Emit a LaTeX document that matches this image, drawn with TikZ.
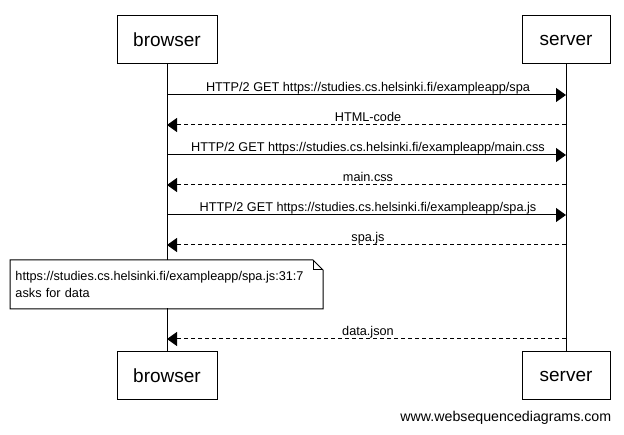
\documentclass[tikz,border=0pt]{standalone}
\usepackage{fontspec}
\setmainfont{Liberation Sans}
\usetikzlibrary{arrows.meta}
\begin{document}
\begin{tikzpicture}[x=1pt,y=-1pt,line width=1pt,
	actor/.style={draw,minimum height=48pt,font=\fontsize{19}{22}\selectfont},
	msg/.style={-{Triangle[length=10pt,width=14pt]}},
	reply/.style={msg,dash pattern=on 4pt off 3pt},
	lbl/.style={anchor=base,inner sep=0pt,yshift=3.5pt,xshift=1.5pt,font=\fontsize{12.7}{15}\selectfont},
	notetext/.style={fill=white,minimum height=48pt,text width=302pt,inner xsep=5pt,align=left,font=\fontsize{12.7}{17}\selectfont}]
	\useasboundingbox (0,0) rectangle (624,435);
	\node[actor,minimum width=100pt] (browserTop) at (167,40) {browser};
	\node[actor,minimum width=88pt] (serverTop) at (566,40) {server};
	\node[actor,minimum width=100pt] (browserBot) at (167,376) {browser};
	\node[actor,minimum width=88pt] (serverBot) at (566,376) {server};
	\draw (browserTop) -- (browserBot);
	\draw (serverTop) -- (serverBot);
	\foreach \n/\y in {1/95,2/125,3/155,4/185,5/215,6/245,7/339} {
		\coordinate (b\n) at (browserTop.south |- 0,\y);
		\coordinate (s\n) at (serverTop.south |- 0,\y);
	}
	\draw[msg] (b1) -- node[lbl]{HTTP/2 GET https://studies.cs.helsinki.fi/exampleapp/spa} (s1);
	\draw[reply] (s2) -- node[lbl]{HTML-code} (b2);
	\draw[msg] (b3) -- node[lbl]{HTTP/2 GET https://studies.cs.helsinki.fi/exampleapp/main.css} (s3);
	\draw[reply] (s4) -- node[lbl]{main.css} (b4);
	\draw[msg] (b5) -- node[lbl]{HTTP/2 GET https://studies.cs.helsinki.fi/exampleapp/spa.js} (s5);
	\draw[reply] (s6) -- node[lbl]{spa.js} (b6);
	% note
	\node[notetext,anchor=north west] (note) at (10,260) {https://studies.cs.helsinki.fi/exampleapp/spa.js:31:7\\asks for data};
	\draw (note.north west) -- ([xshift=-10pt]note.north east) -- ([yshift=-10pt]note.north east) -- (note.south east) -- (note.south west) -- cycle;
	\draw ([xshift=-10pt]note.north east) |- ([yshift=-10pt]note.north east);
	\draw[reply] (s7) -- node[lbl]{data.json} (b7);
	\node[anchor=base east,font=\fontsize{14.2}{16}\selectfont] (credit) at (615,422) {www.websequencediagrams.com};
\end{tikzpicture}
\end{document}
